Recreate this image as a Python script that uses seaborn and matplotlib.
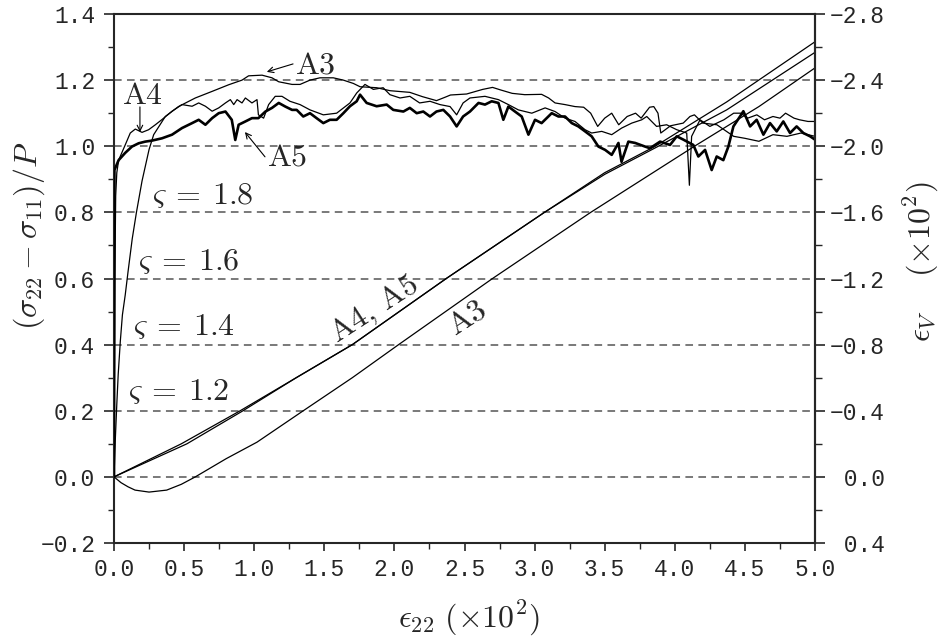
import matplotlib
matplotlib.use("Agg")
import matplotlib.pyplot as plt
import seaborn as sns
import pandas as pd
from matplotlib.ticker import MultipleLocator, FuncFormatter

# ---------------- data ----------------
# stress ratio (sigma22 - sigma11)/P  -- left axis
a3_x = [0, 0.01, 0.02, 0.03, 0.045, 0.06, 0.08, 0.1, 0.13, 0.16, 0.2, 0.25, 0.283, 0.366, 0.46,
        0.58, 0.70, 0.818, 0.913, 0.96, 1.056, 1.127, 1.175, 1.27, 1.327, 1.398, 1.469, 1.564,
        1.636, 1.707, 1.755, 1.874, 1.969, 2.11, 2.2, 2.30, 2.36, 2.40, 2.515, 2.63, 2.70, 2.76,
        2.84, 2.93, 3.05, 3.10, 3.146, 3.217, 3.288, 3.35, 3.40, 3.45, 3.5, 3.55, 3.6, 3.66, 3.72,
        3.76, 3.82, 3.85, 3.88, 3.9, 3.97, 4.06, 4.108, 4.14, 4.2, 4.3, 4.42, 4.5, 4.6, 4.7, 4.8,
        4.9, 5.0]
a3_s = [0, 0.12, 0.22, 0.31, 0.41, 0.49, 0.55, 0.62, 0.72, 0.8, 0.895, 0.99, 1.035, 1.09, 1.12,
        1.146, 1.166, 1.186, 1.20, 1.213, 1.215, 1.207, 1.195, 1.187, 1.187, 1.20, 1.207, 1.207,
        1.20, 1.19, 1.18, 1.177, 1.168, 1.163, 1.15, 1.138, 1.148, 1.155, 1.158, 1.172, 1.178, 1.17,
        1.16, 1.156, 1.157, 1.146, 1.131, 1.126, 1.12, 1.118, 1.10, 1.06, 1.085, 1.10, 1.065, 1.09,
        1.10, 1.085, 1.118, 1.12, 1.10, 1.04, 1.062, 1.07, 1.09, 1.095, 1.07, 1.065, 1.03, 1.024,
        1.015, 1.035, 1.03, 1.04, 1.03]

a4_x = [0, 0.006, 0.012, 0.02, 0.033, 0.08, 0.116, 0.152, 0.2, 0.247, 0.295, 0.34, 0.414, 0.485,
        0.557, 0.604, 0.652, 0.70, 0.747, 0.795, 0.83, 0.854, 0.878, 0.913, 0.937, 0.984, 1.02,
        1.03, 1.067, 1.103, 1.15, 1.198, 1.255, 1.327, 1.398, 1.493, 1.588, 1.683, 1.731, 1.79,
        1.85, 1.92, 1.968, 2.04, 2.11, 2.18, 2.254, 2.325, 2.397, 2.444, 2.49, 2.539, 2.646, 2.742,
        2.813, 2.884, 2.98, 3.075, 3.146, 3.217, 3.288, 3.36, 3.407, 3.479, 3.55, 3.621, 3.693,
        3.764, 3.8, 3.87, 3.942, 4.014, 4.085, 4.104, 4.12, 4.18, 4.25, 4.35, 4.42, 4.47, 4.52,
        4.585, 4.64, 4.70, 4.75, 4.79, 4.85, 4.89, 4.95, 5.0]
a4_s = [0, 0.6, 0.85, 0.92, 0.958, 1.004, 1.04, 1.052, 1.042, 1.05, 1.065, 1.08, 1.106, 1.126,
        1.121, 1.131, 1.121, 1.106, 1.116, 1.131, 1.141, 1.126, 1.141, 1.131, 1.146, 1.131, 1.141,
        1.095, 1.085, 1.126, 1.151, 1.151, 1.136, 1.126, 1.11, 1.095, 1.10, 1.131, 1.161, 1.187,
        1.172, 1.177, 1.156, 1.146, 1.151, 1.131, 1.136, 1.126, 1.12, 1.095, 1.131, 1.146, 1.151,
        1.141, 1.126, 1.11, 1.10, 1.116, 1.105, 1.085, 1.075, 1.05, 1.04, 1.045, 1.035, 1.055,
        1.07, 1.08, 1.09, 1.06, 1.065, 1.05, 1.04, 0.882, 1.03, 1.08, 1.06, 1.08, 1.10, 1.10,
        1.085, 1.095, 1.08, 1.09, 1.085, 1.10, 1.085, 1.08, 1.075, 1.075]

a5_x = [0, 0.003, 0.033, 0.08, 0.128, 0.176, 0.223, 0.27, 0.342, 0.414, 0.485, 0.557, 0.604,
        0.652, 0.70, 0.747, 0.795, 0.84, 0.865, 0.889, 0.937, 0.984, 1.03, 1.08, 1.127, 1.175,
        1.222, 1.27, 1.303, 1.35, 1.398, 1.445, 1.493, 1.54, 1.588, 1.636, 1.683, 1.731, 1.755,
        1.802, 1.873, 1.945, 1.992, 2.064, 2.11, 2.159, 2.206, 2.254, 2.30, 2.349, 2.397, 2.444,
        2.49, 2.539, 2.6, 2.646, 2.694, 2.742, 2.777, 2.813, 2.86, 2.908, 2.956, 3.003, 3.05,
        3.122, 3.17, 3.217, 3.265, 3.312, 3.36, 3.407, 3.455, 3.503, 3.55, 3.598, 3.62, 3.669,
        3.717, 3.788, 3.823, 3.895, 3.966, 4.014, 4.061, 4.132, 4.168, 4.216, 4.263, 4.299, 4.346,
        4.382, 4.418, 4.465, 4.489, 4.537, 4.584, 4.632, 4.679, 4.727, 4.774, 4.822, 4.869, 4.917,
        4.965, 5.0]
a5_s = [0, 0.928, 0.958, 0.98, 0.999, 1.009, 1.014, 1.017, 1.024, 1.035, 1.055, 1.07, 1.08,
        1.065, 1.085, 1.10, 1.105, 1.08, 1.019, 1.065, 1.075, 1.085, 1.085, 1.105, 1.116, 1.131,
        1.12, 1.11, 1.11, 1.09, 1.10, 1.085, 1.07, 1.08, 1.08, 1.10, 1.121, 1.136, 1.156, 1.131,
        1.121, 1.126, 1.11, 1.105, 1.116, 1.10, 1.105, 1.09, 1.105, 1.11, 1.09, 1.06, 1.09, 1.105,
        1.131, 1.126, 1.136, 1.131, 1.08, 1.12, 1.105, 1.09, 1.035, 1.08, 1.07, 1.10, 1.09, 1.09,
        1.07, 1.06, 1.045, 1.03, 0.999, 0.989, 0.974, 1.01, 0.953, 1.014, 1.01, 0.999, 0.994,
        1.014, 1.004, 1.03, 1.02, 1.004, 0.969, 0.989, 0.928, 0.969, 0.958, 0.999, 1.06, 1.09,
        1.106, 1.06, 1.08, 1.035, 1.07, 1.045, 1.075, 1.04, 1.06, 1.04, 1.03, 1.02]

# volumetric strain eps_V (x10^2) -- right axis (inverted)
ev3_x = [0, 0.05, 0.1, 0.15, 0.25, 0.376, 0.48, 0.58, 0.8, 1.02, 1.35, 1.7, 2.03, 2.7, 3.4, 4.14,
         4.6, 5.0]
ev3_v = [0, 0.035, 0.06, 0.08, 0.092, 0.08, 0.045, 0, -0.11, -0.21, -0.4, -0.6, -0.8, -1.2, -1.6,
         -2.0, -2.24, -2.474]
ev4_x = [0, 0.48, 0.9, 1.3, 1.7, 2.37, 3.07, 3.5, 3.86, 4.37, 5.0]
ev4_v = [0, -0.2, -0.4, -0.6, -0.8, -1.2, -1.6, -1.84, -2.0, -2.268, -2.632]
ev5_x = [0, 0.52, 0.92, 1.3, 1.7, 2.37, 3.07, 3.5, 3.86, 4.37, 5.0]
ev5_v = [0, -0.2, -0.4, -0.6, -0.8, -1.2, -1.6, -1.83, -1.99, -2.22, -2.568]

varsigma_vals = ["1.8", "1.6", "1.4", "1.2"]
grid_levels = [0.0, 0.2, 0.4, 0.6, 0.8, 1.0, 1.2]

# ---------------- style ----------------
sns.set_style("ticks")
plt.rcParams['font.family'] = ['Liberation Mono', 'DejaVu Sans']
plt.rcParams['mathtext.fontset'] = 'cm'
plt.rcParams['axes.unicode_minus'] = True

W, H = 939, 637
fig = plt.figure(figsize=(W / 100, H / 100), dpi=100)
L, R, T, B = 114, 815, 14, 543
ax = fig.add_axes([L / W, 1 - B / H, (R - L) / W, (B - T) / H])
ax2 = ax.twinx()

# grid
for g in grid_levels:
    ax.axhline(g, color='#555555', lw=1.1, ls=(0, (5, 3.5)), zorder=1)

stress = [(a3_x, a3_s, 0.9), (a4_x, a4_s, 0.9), (a5_x, a5_s, 1.9)]
for xs, ys, lw in stress:
    df = pd.DataFrame({"e22": xs, "ratio": ys})
    sns.lineplot(data=df, x="e22", y="ratio", ax=ax, color='black', lw=lw,
                 estimator=None, sort=False, legend=False, zorder=3)

for xs, ys in [(ev3_x, ev3_v), (ev4_x, ev4_v), (ev5_x, ev5_v)]:
    df = pd.DataFrame({"e22": xs, "ev": ys})
    sns.lineplot(data=df, x="e22", y="ev", ax=ax2, color='black', lw=0.9,
                 estimator=None, sort=False, legend=False)

ax.set_xlim(0, 5)
ax.set_ylim(-0.2, 1.4)
ax2.set_ylim(0.4, -2.8)
ax.set_xlabel("")
ax.set_ylabel("")
ax2.set_ylabel("")


def left_fmt(v, pos):
    s = f"{v:.1f}"
    if s == "-0.0":
        s = "0.0"
    return s.replace("-", "\u2212")


def right_fmt(v, pos):
    s = f"{abs(v):.1f}"
    if round(v, 3) < 0:
        return "\u2212" + s
    return " " + s


ax.xaxis.set_major_locator(MultipleLocator(0.5))
ax.xaxis.set_minor_locator(MultipleLocator(0.25))
ax.xaxis.set_major_formatter(FuncFormatter(left_fmt))
ax.yaxis.set_major_locator(MultipleLocator(0.2))
ax.yaxis.set_minor_locator(MultipleLocator(0.1))
ax.yaxis.set_major_formatter(FuncFormatter(left_fmt))
ax2.yaxis.set_major_locator(MultipleLocator(0.4))
ax2.yaxis.set_minor_locator(MultipleLocator(0.2))
ax2.yaxis.set_major_formatter(FuncFormatter(right_fmt))

tl = 16.5
ax.tick_params(axis='x', which='major', direction='out', length=6, width=1.2, pad=5,
               top=False, labelsize=tl)
ax.tick_params(axis='x', which='minor', direction='out', length=4, width=1.0, top=False)
ax.tick_params(axis='y', which='major', direction='out', length=7.5, width=1.2, pad=6,
               right=False, labelsize=tl)
ax.tick_params(axis='y', which='minor', direction='out', length=4, width=1.0, right=False)
ax2.tick_params(axis='y', which='major', direction='out', length=7.5, width=1.2, pad=3,
                left=False, labelsize=tl)
ax2.tick_params(axis='y', which='minor', direction='out', length=5, width=1.0, left=False)
for lab in ax.get_xticklabels() + ax.get_yticklabels() + ax2.get_yticklabels():
    lab.set_family('Liberation Mono')

for sp in ax.spines.values():
    sp.set_visible(True)
    sp.set_linewidth(1.5)
for name, sp in ax2.spines.items():
    sp.set_visible(name == 'right')
    sp.set_linewidth(1.5)

# ---------------- labels ----------------
lf = 23
fig.text(469 / W, 1 - 618 / H, r"$\epsilon_{22}\ (\times 10^2)$", ha='center', va='center',
         fontsize=lf)
fig.text(29 / W, 1 - 236 / H, r"$(\sigma_{22}-\sigma_{11})/P$", ha='center', va='center',
         rotation=90, fontsize=lf)
fig.text(921 / W, 1 - 262 / H, r"$\epsilon_V\quad\ (\times 10^2)$", ha='center', va='center',
         rotation=90, fontsize=lf)

# ---------------- annotations ----------------
fs = 23
ax.text(1.29, 1.245, r"$\mathrm{A3}$", ha='left', va='center', fontsize=fs, zorder=5)
ax.annotate("", xy=(1.09, 1.225), xytext=(1.277, 1.249),
            arrowprops=dict(arrowstyle='->', lw=0.8, color='black', shrinkA=0, shrinkB=0))
ax.text(0.205, 1.152, r"$\mathrm{A4}$", ha='center', va='center', fontsize=fs, zorder=5)
ax.annotate("", xy=(0.185, 1.043), xytext=(0.185, 1.119),
            arrowprops=dict(arrowstyle='->', lw=0.8, color='black', shrinkA=0, shrinkB=0))
ax.text(1.235, 0.965, r"$\mathrm{A5}$", ha='center', va='center', fontsize=fs, zorder=5)
ax.annotate("", xy=(0.934, 1.043), xytext=(1.077, 0.968),
            arrowprops=dict(arrowstyle='->', lw=0.8, color='black', shrinkA=0, shrinkB=0))

vs_pos = [(0.27, 0.85), (0.17, 0.65), (0.136, 0.453), (0.10, 0.257)]
for val, (px, py) in zip(varsigma_vals, vs_pos):
    ax.text(px, py, r"$\varsigma\:=\:" + val + "$", ha='left', va='center', fontsize=fs,
            zorder=5)

ax.text(1.855, 0.505, r"$\mathrm{A4,\,A5}$", ha='center', va='center', fontsize=fs,
        rotation=33, rotation_mode='anchor', zorder=5)
ax.text(2.52, 0.48, r"$\mathrm{A3}$", ha='center', va='center', fontsize=fs,
        rotation=33, rotation_mode='anchor', zorder=5)

fig.savefig("out.png", dpi=100)
